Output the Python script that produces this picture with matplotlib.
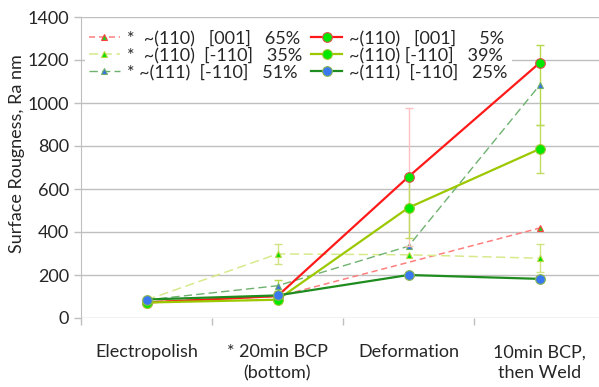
import numpy as np
import matplotlib
matplotlib.use("Agg")
import matplotlib.pyplot as plt

plt.rcParams['font.family'] = ['Lato', 'DejaVu Sans']

stages = ["Electropolish", "* 20min BCP\n(bottom)", "Deformation", "10min BCP,\nthen Weld"]

# solid series (circles)
r110_001_5 = [72, 102, 657, 1186]
r110_m110_39 = [72, 85, 513, 786]
r111_m110_25 = [86, 105, 200, 182]
# dashed series (triangles), nan = no measurement
d110_001_65 = [75, 100, np.nan, 418]
d110_m110_35 = [84, 298, 294, 278]
d111_m110_51 = [84, 150, 334, 1082]

# error bars (0 = none)
err_r110_001_5 = [0, 0, 322, 0]
err_r110_m110_39 = [0, 0, 140, 112]
err_d110_m110_35 = [0, 48, 0, 65]
err_d111_m110_51 = [0, 25, 0, 186]

labels_dashed = ["*  ~(110)   [001]   65%",
                 "*  ~(110)  [-110]   35%",
                 "* ~(111)  [-110]   51%"]
labels_solid = ["~(110)   [001]     5%",
                "~(110) [-110]   39%",
                "~(111)  [-110]   25%"]

fig = plt.figure(figsize=(5.99, 3.87), dpi=100)
ax = fig.add_axes([81 / 599, 69 / 387, 524 / 599, 301 / 387])

x = np.arange(len(stages))


def draw(vals, err, color, ls, lw, marker, ms, mfc, mec, ecolor, label, z):
    vals = np.array(vals, dtype=float)
    ok = ~np.isnan(vals)
    ax.plot(x[ok], vals[ok], ls=ls, color=color, lw=lw, marker=marker, ms=ms,
            mfc=mfc, mec=mec, mew=0.8, label=label, zorder=z)
    if err is not None:
        err = np.array(err, dtype=float)
        m = err > 0
        ax.errorbar(x[m], vals[m], yerr=err[m], fmt='none', ecolor=ecolor,
                    elinewidth=1, capsize=3, capthick=1, zorder=z - 1)


draw(d110_001_65, None, '#FF7F7F', (0, (4, 2.5)), 1.1, '^', 5, '#22CC22', '#FF4040', None, labels_dashed[0], 4)
draw(d110_m110_35, err_d110_m110_35, '#D6EA8C', (0, (6, 3)), 1.1, '^', 5, '#00E000', '#B8D840', '#CFE480', labels_dashed[1], 4)
draw(d111_m110_51, err_d111_m110_51, '#6FB26F', (0, (6, 3)), 1.0, '^', 5, '#3A6FE0', '#6FB26F', '#B5D94A', labels_dashed[2], 4)
draw(r110_001_5, err_r110_001_5, '#FF1A1A', '-', 1.6, 'o', 7, '#00E800', '#E05050', '#FFC0C0', labels_solid[0], 6)
draw(r110_m110_39, err_r110_m110_39, '#9CC800', '-', 1.6, 'o', 7, '#00E800', '#A0C830', '#C0DC60', labels_solid[1], 6)
draw(r111_m110_25, None, '#1E8C1E', '-', 1.6, 'o', 7, '#3A78F0', '#8CB850', None, labels_solid[2], 6)

ax.set_xlim(-0.5, 3.5)
ax.set_ylim(0, 1400)
ax.set_yticks(np.arange(0, 1401, 200))
ax.set_xticks(x)
ax.set_xticklabels(stages, linespacing=1.35)
ax.set_xticks(np.arange(-0.5, 3.5, 1), minor=True)
ax.tick_params(axis='x', which='major', length=0, pad=19, labelsize=13, colors='#262626')
ax.tick_params(axis='x', which='minor', length=5, color='#BFBFBF', width=1)
ax.tick_params(axis='y', length=5, color='#BFBFBF', width=1, labelsize=13, labelcolor='#262626')
ax.yaxis.grid(True, color='#BFBFBF', lw=1)
ax.set_axisbelow(True)
for s in ['top', 'right', 'bottom']:
    ax.spines[s].set_visible(False)
ax.spines['left'].set_color('#BFBFBF')

fig.text(17 / 599, 1 - 154 / 387, "Surface Rougness, Ra nm", rotation=90,
         ha='center', va='center', fontsize=13, color='#262626')

leg = ax.legend(ncol=2, loc='upper left', bbox_to_anchor=(0.0, 0.985), fontsize=13,
                frameon=True, facecolor='white', edgecolor='none', framealpha=1,
                handlelength=1.7, handletextpad=0.4, columnspacing=0.5,
                labelspacing=0.02, borderpad=0.25, borderaxespad=0.2)
leg.get_frame().set_boxstyle('square', pad=0)
leg.set_zorder(10)
for t in leg.get_texts():
    t.set_color('#262626')

fig.savefig("out.png", dpi=100)
